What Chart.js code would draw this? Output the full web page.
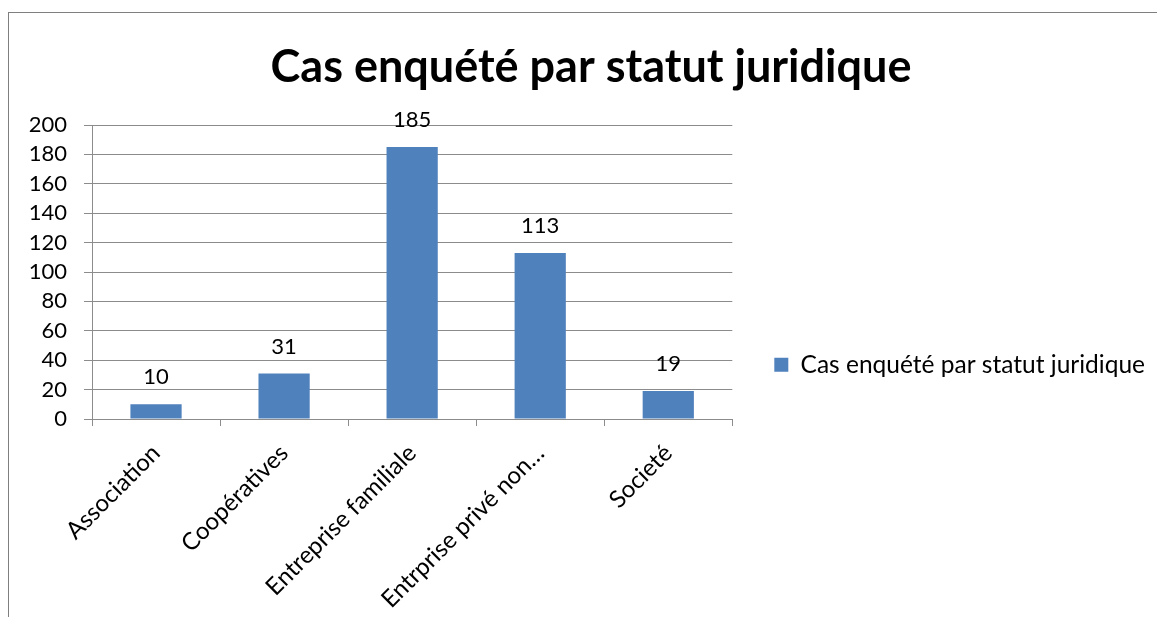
<!DOCTYPE html>
<html>
<head>
<meta charset="utf-8">
<script src="https://cdn.jsdelivr.net/npm/chart.js@4"></script>
<style>
  html, body { margin: 0; padding: 0; background: #fff; overflow: hidden; }
  #frame { position: absolute; left: 8px; top: 12px; width: 1200px; height: 700px;
           border-left: 1px solid #7f7f7f; border-top: 1px solid #7f7f7f; }
  #chart { position: absolute; left: 0; top: 0; }
</style>
</head>
<body>
<div id="frame"></div>
<canvas id="chart" width="1157" height="617"></canvas>
<script>
const categories = ['Association', 'Coopératives', 'Entreprise familiale', 'Entrprise privé non…', 'Societé'];
const counts = [10, 31, 185, 113, 19];
const seriesName = 'Cas enquété par statut juridique';
const chartTitle = 'Cas enquété par statut juridique';

const FONT = 'Lato, "Open Sans", sans-serif';
const GRID = '#8c8c8c';
const BAR = '#4f81bd';

// value labels above each bar
const barLabels = {
  id: 'barLabels',
  afterDatasetsDraw(chart) {
    const ctx = chart.ctx;
    const meta = chart.getDatasetMeta(0);
    ctx.save();
    ctx.font = '22px ' + FONT;
    ctx.fillStyle = '#000';
    ctx.textAlign = 'center';
    ctx.textBaseline = 'middle';
    meta.data.forEach((bar, i) => {
      ctx.fillText(String(counts[i]), bar.x, bar.y - 27);
    });
    ctx.restore();
  }
};

new Chart(document.getElementById('chart').getContext('2d'), {
  type: 'bar',
  data: {
    labels: categories,
    datasets: [{
      label: seriesName,
      data: counts,
      backgroundColor: BAR,
      borderWidth: 0,
      barPercentage: 0.4,
      categoryPercentage: 1
    }]
  },
  options: {
    responsive: false,
    animation: false,
    layout: { padding: { left: 27, right: 2, top: 0, bottom: 0 } },
    scales: {
      x: {
        grid: { drawOnChartArea: false, drawTicks: true, tickLength: 7, color: GRID, offset: true },
        border: { color: GRID, width: 1 },
        ticks: { color: '#000', font: { family: FONT, size: 24 }, minRotation: 45, maxRotation: 45, padding: 13, autoSkip: false },
        afterFit(scale) {
          scale.paddingLeft = 0;
          scale.paddingRight = 0;
          scale.height = 198;
        }
      },
      y: {
        min: 0,
        max: 200,
        ticks: { stepSize: 20, color: '#000', font: { family: FONT, size: 22 }, padding: 17 },
        grid: { color: GRID, tickLength: 8 },
        border: { color: GRID, width: 1 },
        afterFit(scale) {
          scale.width = 65;
        }
      }
    },
    plugins: {
      title: {
        display: true,
        text: chartTitle,
        color: '#000',
        font: { family: FONT, size: 45, weight: 'bold' },
        padding: { top: 40, bottom: 31 }
      },
      legend: {
        position: 'right',
        align: 'end',
        fullSize: false,
        maxWidth: 600,
        labels: { color: '#000', font: { family: FONT, size: 24.5, lineHeight: 1.35 }, boxWidth: 14, boxHeight: 14, padding: 42 }
      },
      tooltip: { enabled: false }
    }
  },
  plugins: [barLabels]
});
</script>
</body>
</html>
